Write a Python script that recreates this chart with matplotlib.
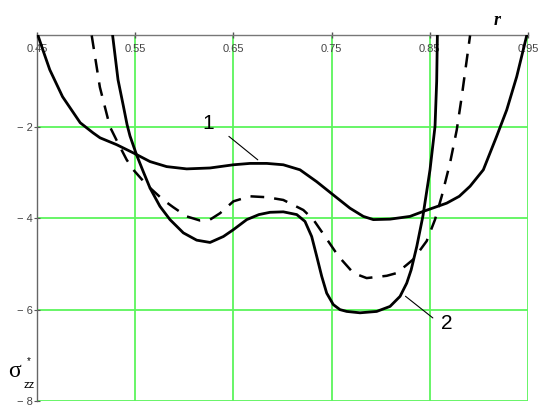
import matplotlib.pyplot as plt

# curve 1 (solid, upper)
r1 = [0.451, 0.457, 0.463, 0.476, 0.494, 0.507, 0.5142, 0.5311, 0.5481,
      0.5651, 0.5820, 0.6024, 0.6262, 0.6500, 0.6669, 0.6840, 0.7008,
      0.7178, 0.7348, 0.7517, 0.7687, 0.7823, 0.7925, 0.8095, 0.8298,
      0.8434, 0.8672, 0.880, 0.891, 0.9045, 0.918, 0.9283, 0.9385, 0.9487]
s1 = [0.0, -0.38, -0.75, -1.34, -1.91, -2.13, -2.24, -2.39, -2.57,
      -2.76, -2.87, -2.92, -2.90, -2.83, -2.80, -2.80, -2.83,
      -2.94, -3.20, -3.49, -3.78, -3.96, -4.03, -4.02, -3.96,
      -3.85, -3.67, -3.52, -3.30, -2.94, -2.21, -1.63, -0.90, 0.0]

# curve 2 (solid, lower)
r2 = [0.527, 0.5325, 0.5380, 0.5417, 0.5447, 0.5515, 0.5582, 0.5651, 0.5752,
      0.5854, 0.5990, 0.6126, 0.6262, 0.6398, 0.6500, 0.6636, 0.6760,
      0.6873, 0.7008, 0.7145, 0.7229, 0.7297, 0.7348, 0.7399, 0.7450,
      0.7517, 0.7585, 0.7654, 0.7789, 0.7959, 0.8095, 0.8197, 0.8265,
      0.8310, 0.8367, 0.8430, 0.8502, 0.8553, 0.8570, 0.8577]
s2 = [0.0, -0.97, -1.55, -1.95, -2.2, -2.62, -2.98, -3.34, -3.74,
      -4.03, -4.32, -4.48, -4.53, -4.40, -4.25, -4.03, -3.92,
      -3.87, -3.86, -3.92, -4.07, -4.40, -4.83, -5.27, -5.64,
      -5.89, -6.00, -6.04, -6.07, -6.04, -5.93, -5.71, -5.42,
      -5.13, -4.62, -3.95, -2.94, -1.99, -1.0, 0.0]

# dashed curve
r3 = [0.5057, 0.514, 0.5243, 0.5312, 0.5413, 0.5481, 0.5617, 0.5786, 0.5888,
      0.6024, 0.6160, 0.6262, 0.6364, 0.6500, 0.6669, 0.6840, 0.7008,
      0.7212, 0.7314, 0.7433, 0.7569, 0.7722, 0.7857, 0.8061, 0.8163,
      0.8265, 0.8332, 0.8468, 0.8553, 0.8621, 0.8706, 0.8774, 0.8825, 0.891]
s3 = [0.0, -1.13, -2.0, -2.3, -2.72, -2.94, -3.27, -3.60, -3.76,
      -3.96, -4.05, -4.03, -3.89, -3.63, -3.52, -3.54, -3.60,
      -3.82, -4.03, -4.40, -4.83, -5.20, -5.31, -5.26, -5.20,
      -5.02, -4.90, -4.50, -4.03, -3.52, -2.79, -2.07, -1.34, 0.0]

xticks = [0.45, 0.55, 0.65, 0.75, 0.85, 0.95]
xlabels = ["0.45", "0.55", "0.65", "0.75", "0.85", "0.95"]
yticks = [-8, -6, -4, -2]
ylabels = ["\u2212 8", "\u2212 6", "\u2212 4", "\u2212 2"]

plt.rcParams['font.family'] = ['Liberation Sans', 'DejaVu Sans']

fig = plt.figure(figsize=(5.41, 4.05), dpi=100)
ax = fig.add_axes([0.0684, 0.0099, 0.9076, 0.9025])

grid_color = "#5cf55c"
ax.plot(r1, s1, color="black", lw=2.0, solid_joinstyle="round",
        solid_capstyle="round", zorder=3)
ax.plot(r2, s2, color="black", lw=2.0, solid_joinstyle="round",
        solid_capstyle="round", zorder=3)
ax.plot(r3, s3, color="black", lw=1.8, linestyle=(0, (5.5, 4)), zorder=3)

ax.set_xlim(0.45, 0.95)
ax.set_ylim(-8, 0)
ax.set_xticks(xticks, labels=xlabels)
ax.set_yticks(yticks, labels=ylabels)
ax.grid(True, color=grid_color, lw=1.3, zorder=1)
ax.set_axisbelow(True)

ax.xaxis.tick_top()
ax.tick_params(axis="x", direction="inout", length=5, width=1, color="#555555",
               labelsize=8, labelcolor="#444444", pad=-16)
ax.tick_params(axis="y", direction="inout", length=4, width=0.8, color="#555555",
               labelsize=8, labelcolor="#444444", pad=1)

for side in ["bottom", "right"]:
    ax.spines[side].set_visible(False)
ax.spines["left"].set_color("#666666")
ax.spines["top"].set_color("#777777")
ax.spines["left"].set_linewidth(1.0)
ax.spines["top"].set_linewidth(1.0)

# curve labels with leader lines
ax.annotate("", xy=(0.677, -2.76), xytext=(0.6432, -2.17),
            arrowprops=dict(arrowstyle="-", color="black", lw=0.8))
ax.text(0.624, -1.92, "1", fontsize=15, ha="center", va="center")
ax.annotate("", xy=(0.823, -5.67), xytext=(0.8553, -6.22),
            arrowprops=dict(arrowstyle="-", color="black", lw=0.8))
ax.text(0.8672, -6.31, "2", fontsize=15, ha="center", va="center")

# axis names
ax.text(0.937, 1.042, "r", transform=ax.transAxes, fontsize=13,
        fontstyle="italic", fontweight="bold", family="Liberation Serif",
        ha="center", va="center")
fig.text(0.026, 0.0815, "\u03c3", fontsize=17, family="Liberation Serif",
         ha="center", va="center")
fig.text(0.053, 0.049, "zz", fontsize=8, ha="center", va="center")
fig.text(0.053, 0.109, "*", fontsize=7, ha="center", va="center")

fig.savefig("out.png", dpi=100)
